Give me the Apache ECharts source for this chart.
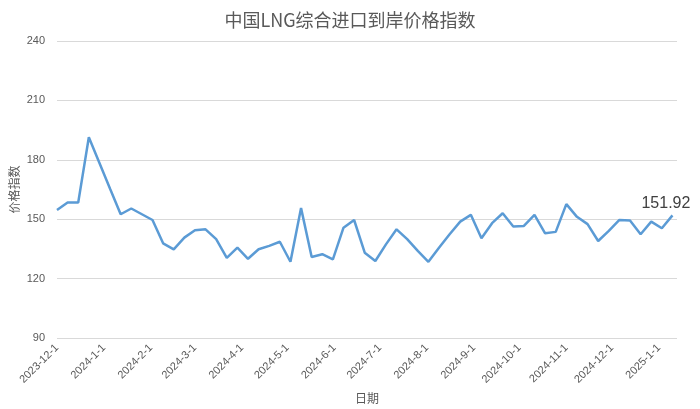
<!DOCTYPE html>
<html>
<head>
<meta charset="utf-8">
<script src="https://cdn.jsdelivr.net/npm/echarts@6/dist/echarts.min.js"></script>
<style>
html,body{margin:0;padding:0;background:#fff;}
#chart{width:700px;height:409px;}
</style>
</head>
<body>
<div id="chart"></div>
<script>
var titleText = '中国LNG综合进口到岸价格指数';
var yName = '价格指数';
var xName = '日期';
var dates = [
  '2023-12-01','2023-12-08','2023-12-15','2023-12-22','2023-12-29',
  '2024-01-05','2024-01-12','2024-01-19','2024-01-26',
  '2024-02-02','2024-02-09','2024-02-16','2024-02-23',
  '2024-03-01','2024-03-08','2024-03-15','2024-03-22','2024-03-29',
  '2024-04-05','2024-04-12','2024-04-19','2024-04-26',
  '2024-05-03','2024-05-10','2024-05-17','2024-05-24','2024-05-31',
  '2024-06-07','2024-06-14','2024-06-21','2024-06-28',
  '2024-07-05','2024-07-12','2024-07-19','2024-07-26',
  '2024-08-02','2024-08-09','2024-08-16','2024-08-23','2024-08-30',
  '2024-09-06','2024-09-13','2024-09-20','2024-09-27',
  '2024-10-04','2024-10-11','2024-10-18','2024-10-25',
  '2024-11-01','2024-11-08','2024-11-15','2024-11-22','2024-11-29',
  '2024-12-06','2024-12-13','2024-12-20','2024-12-27',
  '2025-01-03','2025-01-10'
];
var values = [
  154.6,158.4,158.4,191.4,178.4,
  165.4,152.5,155.4,152.5,
  149.6,137.8,134.8,140.7,
  144.4,144.9,139.9,130.5,135.6,
  130.0,134.8,136.5,138.6,
  128.5,155.6,130.9,132.3,129.7,
  145.7,149.6,133.1,128.9,
  137.3,144.9,139.9,134.0,
  128.5,135.6,142.4,148.8,152.2,
  140.4,148.0,153.0,146.3,
  146.6,152.2,142.9,143.6,
  157.6,151.2,147.5,139.0,144.1,
  149.6,149.3,142.4,148.8,
  145.4,151.92
];
var xMin = '2023-12-01';
var xMax = '2025-01-13';
var yMin = 90, yMax = 240, yStep = 30;

var seriesData = dates.map(function (d, i) { return [d, values[i]]; });
var lastIdx = values.length - 1;
seriesData[lastIdx] = {
  value: [dates[lastIdx], values[lastIdx]],
  label: {
    show: true,
    position: [-31, -20],
    formatter: function (p) { return p.value[1].toFixed(2); },
    fontSize: 16,
    color: '#404040',
    fontFamily: 'Liberation Sans, Arial, sans-serif'
  }
};

var chart = echarts.init(document.getElementById('chart'), null, {renderer: 'canvas'});
chart.setOption({
  animation: false,
  backgroundColor: '#ffffff',
  title: {
    text: titleText,
    left: 'center',
    top: 6,
    textStyle: {
      fontSize: 18,
      fontWeight: 'normal',
      color: '#595959',
      fontFamily: 'Noto Sans CJK SC, sans-serif'
    }
  },
  grid: {left: 57, right: 23, top: 41, bottom: 71, containLabel: false, outerBoundsMode: 'none'},
  xAxis: {
    type: 'time',
    min: xMin,
    max: xMax,
    minInterval: 28 * 86400000,
    maxInterval: 31 * 86400000,
    name: xName,
    nameLocation: 'middle',
    nameGap: 54,
    nameMoveOverlap: false,
    nameTextStyle: {fontSize: 12, color: '#595959', fontFamily: 'Noto Sans CJK SC, sans-serif'},
    axisLine: {show: false},
    axisTick: {show: false},
    splitLine: {show: false},
    axisLabel: {
      rotate: 45,
      fontSize: 11,
      color: '#595959',
      margin: 8,
      showMinLabel: true,
      fontFamily: 'Liberation Sans, Arial, sans-serif',
      formatter: function (v) {
        var d = new Date(v);
        return d.getFullYear() + '-' + (d.getMonth() + 1) + '-' + d.getDate();
      }
    }
  },
  yAxis: {
    type: 'value',
    min: yMin,
    max: yMax,
    interval: yStep,
    name: yName,
    nameLocation: 'middle',
    nameGap: 37,
    nameMoveOverlap: false,
    nameTextStyle: {fontSize: 12, color: '#595959', fontFamily: 'Noto Sans CJK SC, sans-serif'},
    axisLine: {show: false},
    axisTick: {show: false},
    axisLabel: {fontSize: 11, color: '#595959', margin: 12, fontFamily: 'Liberation Sans, Arial, sans-serif'},
    splitLine: {show: true, lineStyle: {color: '#d9d9d9', width: 1}}
  },
  series: [{
    type: 'line',
    data: seriesData,
    showSymbol: true,
    symbol: 'circle',
    symbolSize: 0,
    lineStyle: {color: '#5b9bd5', width: 2.5},
    itemStyle: {color: '#5b9bd5'},
    labelLayout: {hideOverlap: false},
    smooth: false
  }]
});
</script>
</body>
</html>
